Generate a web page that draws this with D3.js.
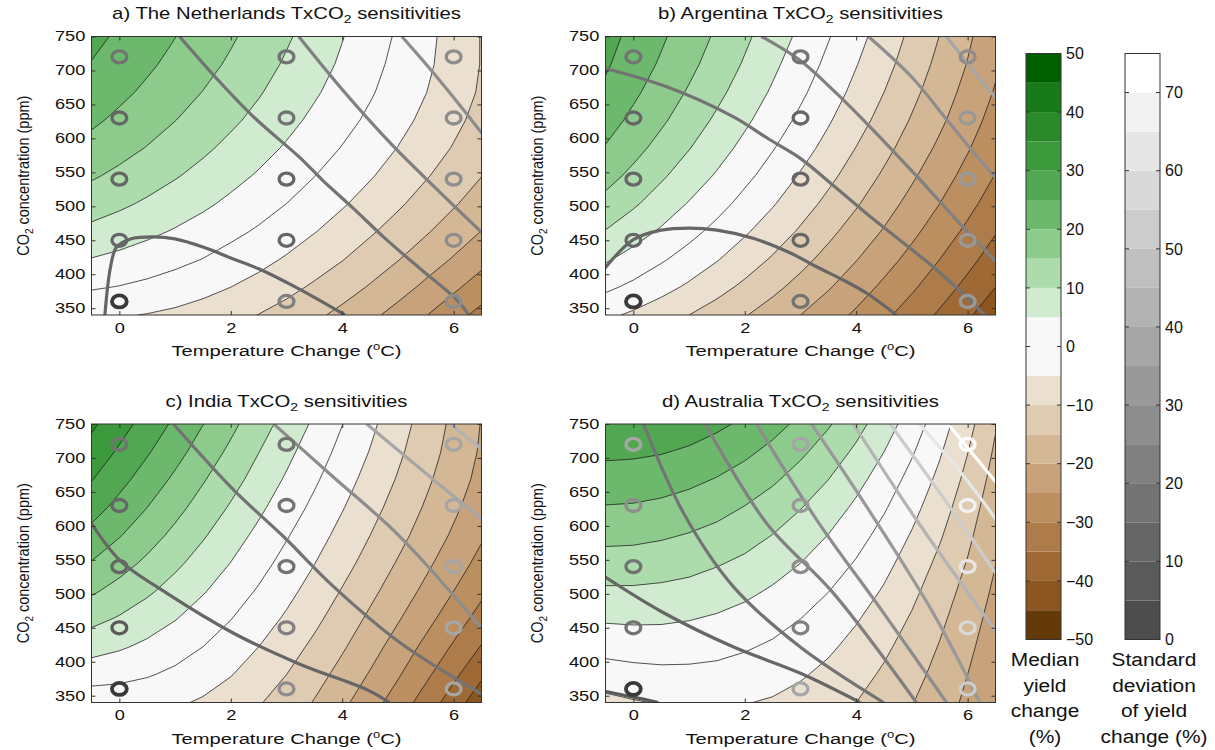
<!DOCTYPE html>
<html>
<head>
<meta charset="utf-8">
<script src="https://cdn.jsdelivr.net/npm/d3@7"></script>
<style>
  body { margin: 0; background: #fff; }
  text { font-family: "Liberation Sans", Arial, Helvetica, sans-serif; fill: #111; }
</style>
</head>
<body>
<svg id="chart" width="1215" height="750"></svg>
<script>
// ---- axes / design points ----
const T_TICKS = [0, 2, 4, 6];
const CO2_TICKS = [350, 400, 450, 500, 550, 600, 650, 700, 750];
const DESIGN_T = [0, 3, 6];
const DESIGN_CO2 = [360, 450, 540, 630, 720];
const LEVELS = [-50, -45, -40, -35, -30, -25, -20, -15, -10, -5, 0, 5, 10, 15, 20, 25, 30, 35, 40, 45, 50];

// grid the median surface is read on
const GRID_T = [-0.5, 0, 0.5, 1, 1.5, 2, 2.5, 3, 3.5, 4, 4.5, 5, 5.5, 6, 6.5];
const GRID_CO2 = [340, 381, 422, 463, 504, 545, 586, 627, 668, 709, 750];

// ---- median yield change (%), one row per GRID_CO2 value, columns follow GRID_T ----
const MEDIAN_A = [
  [-4.3, -4.6, -5.2, -6.0, -7.1, -8.5, -10.1, -11.9, -14.0, -16.3, -18.9, -21.7, -24.8, -28.1, -31.6],
  [0.5, -0.2, -1.1, -2.2, -3.5, -5.0, -6.7, -8.6, -10.7, -12.9, -15.4, -18.1, -21.0, -24.1, -27.3],
  [4.8, 3.8, 2.6, 1.3, -0.1, -1.8, -3.5, -5.5, -7.6, -9.8, -12.3, -14.8, -17.6, -20.4, -23.5],
  [8.8, 7.5, 6.1, 4.6, 3.0, 1.2, -0.6, -2.6, -4.8, -7.0, -9.4, -11.9, -14.5, -17.3, -20.1],
  [12.3, 10.9, 9.3, 7.6, 5.9, 4.0, 2.0, 0.0, -2.2, -4.5, -6.8, -9.3, -11.9, -14.5, -17.3],
  [15.6, 13.9, 12.2, 10.4, 8.5, 6.5, 4.5, 2.3, 0.1, -2.2, -4.6, -7.0, -9.6, -12.2, -14.9],
  [18.4, 16.7, 14.8, 12.9, 10.9, 8.8, 6.7, 4.5, 2.2, -0.2, -2.6, -5.1, -7.6, -10.3, -13.0],
  [20.9, 19.0, 17.1, 15.1, 13.0, 10.9, 8.7, 6.4, 4.0, 1.6, -0.9, -3.5, -6.1, -8.8, -11.6],
  [23.0, 21.1, 19.1, 17.0, 14.9, 12.7, 10.4, 8.0, 5.6, 3.1, 0.5, -2.2, -4.9, -7.7, -10.6],
  [24.8, 22.9, 20.8, 18.7, 16.5, 14.3, 11.9, 9.4, 6.9, 4.3, 1.5, -1.3, -4.1, -7.1, -10.2],
  [26.2, 24.3, 22.3, 20.1, 17.9, 15.6, 13.2, 10.6, 8.0, 5.2, 2.3, -0.6, -3.7, -6.9, -10.2]
];
const MEDIAN_B = [
  [-4.0, -5.8, -7.8, -10.0, -12.2, -14.7, -17.2, -20.0, -22.8, -25.8, -29.0, -32.3, -35.7, -39.3, -43.1],
  [1.0, -1.1, -3.4, -5.8, -8.4, -11.0, -13.8, -16.6, -19.6, -22.7, -26.0, -29.3, -32.8, -36.3, -40.0],
  [5.6, 3.2, 0.6, -2.0, -4.7, -7.6, -10.5, -13.5, -16.6, -19.8, -23.1, -26.5, -30.0, -33.6, -37.2],
  [9.8, 7.1, 4.4, 1.5, -1.4, -4.4, -7.4, -10.6, -13.8, -17.1, -20.4, -23.9, -27.4, -31.0, -34.7],
  [13.5, 10.7, 7.7, 4.7, 1.7, -1.5, -4.6, -7.9, -11.2, -14.5, -18.0, -21.5, -25.0, -28.6, -32.3],
  [16.8, 13.8, 10.7, 7.6, 4.5, 1.2, -2.0, -5.4, -8.8, -12.2, -15.7, -19.3, -22.9, -26.5, -30.2],
  [19.7, 16.6, 13.4, 10.2, 7.0, 3.7, 0.3, -3.1, -6.5, -10.1, -13.6, -17.2, -20.9, -24.6, -28.4],
  [22.1, 18.9, 15.8, 12.5, 9.2, 5.9, 2.5, -1.0, -4.5, -8.1, -11.7, -15.4, -19.1, -22.9, -26.8],
  [24.1, 20.9, 17.7, 14.5, 11.2, 7.8, 4.4, 0.9, -2.7, -6.3, -10.0, -13.8, -17.6, -21.5, -25.4],
  [25.6, 22.5, 19.4, 16.2, 12.9, 9.5, 6.0, 2.5, -1.1, -4.8, -8.5, -12.3, -16.3, -20.2, -24.3],
  [26.7, 23.7, 20.7, 17.5, 14.3, 10.9, 7.5, 4.0, 0.3, -3.4, -7.2, -11.1, -15.1, -19.2, -23.4]
];
const MEDIAN_C = [
  [-3.0, -2.9, -3.4, -4.3, -5.6, -7.4, -9.6, -12.2, -15.3, -18.9, -22.9, -27.3, -32.2, -37.5, -43.3],
  [2.1, 1.4, 0.4, -1.0, -2.8, -4.8, -7.3, -10.0, -13.1, -16.6, -20.4, -24.5, -29.0, -33.9, -39.1],
  [6.9, 5.6, 4.0, 2.1, 0.0, -2.4, -5.0, -7.9, -11.0, -14.4, -18.1, -22.0, -26.2, -30.6, -35.3],
  [11.4, 9.5, 7.4, 5.2, 2.7, 0.1, -2.7, -5.7, -8.9, -12.3, -15.9, -19.6, -23.5, -27.6, -31.9],
  [15.7, 13.3, 10.8, 8.1, 5.4, 2.5, -0.5, -3.6, -6.9, -10.3, -13.8, -17.4, -21.1, -25.0, -29.0],
  [19.7, 16.9, 14.0, 11.0, 8.0, 4.9, 1.7, -1.6, -4.9, -8.3, -11.8, -15.4, -19.0, -22.7, -26.5],
  [23.5, 20.3, 17.1, 13.8, 10.5, 7.2, 3.8, 0.4, -3.0, -6.5, -10.0, -13.5, -17.1, -20.7, -24.4],
  [27.0, 23.5, 20.0, 16.5, 13.0, 9.5, 6.0, 2.4, -1.1, -4.7, -8.3, -11.9, -15.5, -19.1, -22.7],
  [30.2, 26.5, 22.8, 19.1, 15.4, 11.8, 8.1, 4.4, 0.7, -3.0, -6.7, -10.4, -14.1, -17.8, -21.4],
  [33.2, 29.3, 25.5, 21.7, 17.8, 14.0, 10.1, 6.3, 2.4, -1.4, -5.2, -9.1, -12.9, -16.8, -20.6],
  [35.9, 32.0, 28.0, 24.1, 20.1, 16.2, 12.2, 8.2, 4.2, 0.1, -3.9, -8.0, -12.0, -16.1, -20.2]
];
const MEDIAN_D = [
  [-6.4, -5.4, -4.7, -4.3, -4.4, -4.8, -5.5, -6.6, -8.1, -10.0, -12.2, -14.8, -17.7, -21.0, -24.7],
  [-2.3, -1.6, -1.2, -1.2, -1.5, -2.1, -3.1, -4.5, -6.2, -8.3, -10.7, -13.4, -16.5, -20.0, -23.8],
  [1.7, 2.1, 2.2, 2.0, 1.5, 0.5, -0.7, -2.3, -4.2, -6.5, -9.1, -12.0, -15.3, -18.9, -22.9],
  [5.6, 5.8, 5.7, 5.2, 4.4, 3.3, 1.8, 0.0, -2.1, -4.6, -7.4, -10.5, -14.0, -17.8, -21.9],
  [9.3, 9.3, 9.0, 8.4, 7.4, 6.1, 4.4, 2.5, 0.1, -2.5, -5.5, -8.9, -12.6, -16.6, -20.9],
  [12.9, 12.8, 12.3, 11.6, 10.4, 9.0, 7.1, 5.0, 2.4, -0.4, -3.6, -7.2, -11.1, -15.3, -19.9],
  [16.4, 16.2, 15.6, 14.7, 13.5, 11.9, 9.9, 7.6, 4.9, 1.8, -1.6, -5.4, -9.5, -14.0, -18.9],
  [19.7, 19.5, 18.9, 17.9, 16.6, 14.8, 12.7, 10.2, 7.4, 4.1, 0.5, -3.5, -7.9, -12.7, -17.9],
  [22.9, 22.7, 22.1, 21.1, 19.7, 17.9, 15.7, 13.0, 10.0, 6.5, 2.7, -1.6, -6.2, -11.3, -16.8],
  [26.0, 25.8, 25.3, 24.3, 22.8, 21.0, 18.7, 15.9, 12.7, 9.1, 5.0, 0.5, -4.5, -9.9, -15.7],
  [28.9, 28.9, 28.4, 27.5, 26.0, 24.1, 21.7, 18.9, 15.5, 11.7, 7.4, 2.6, -2.7, -8.4, -14.6]
];

// ---- standard deviation isolines [T, CO2] with their level (%) ----
const STD_A = [
  {level: 10, pts: [[-0.26,340],[-0.16,410],[-0.05,440],[0.2,452],[0.6,455],[1.0,452],[1.5,440],[2.0,424],[2.5,408],[3.0,388],[3.5,366],[4.05,340]]},
  {level: 15, pts: [[1.08,750],[1.77,686],[2.43,630],[3.25,571],[3.64,539],[4.2,497],[4.74,455],[5.4,408],[6.06,362],[6.27,340]]},
  {level: 20, pts: [[3.22,750],[4.0,672],[4.9,590],[5.7,525],[6.55,458]]},
  {level: 25, pts: [[5.07,750],[5.6,700],[6.1,650],[6.55,603]]}
];
const STD_B = [
  {level: 10, pts: [[-0.55,405],[0,451],[0.5,465],[1.0,468],[1.5,465],[2.15,453],[2.8,432],[3.29,411],[3.8,390],[4.19,372],[4.72,340]]},
  {level: 15, pts: [[-0.55,704],[0.6,676],[1.79,632],[2.45,598],[2.99,571],[3.6,530],[4.25,485],[5.38,411],[6.0,365],[6.3,340]]},
  {level: 20, pts: [[2.30,750],[2.99,715],[3.6,670],[4.13,627],[5.09,544],[5.8,480],[6.55,415]]},
  {level: 27, pts: [[4.22,750],[5.0,690],[5.63,627],[6.1,580],[6.55,538]]},
  {level: 35, pts: [[5.62,750],[6.1,700],[6.55,655]]}
];
const STD_C = [
  {level: 14, pts: [[-0.55,610],[0,550],[0.85,501],[2.05,442],[3.25,396],[4.44,359],[4.85,340]]},
  {level: 19, pts: [[0.97,750],[2.05,653],[2.95,584],[3.84,511],[5.04,428],[6.55,350]]},
  {level: 27, pts: [[2.77,750],[3.84,672],[5.04,584],[6.55,445]]},
  {level: 35, pts: [[4.44,750],[5.64,668],[6.55,607]]},
  {level: 43, pts: [[5.94,750],[6.55,710]]}
];
const STD_D = [
  {level: 5, pts: [[-0.55,357],[0.0,348],[0.45,340]]},
  {level: 10, pts: [[-0.55,527],[0.5,474],[1.79,422],[3.0,383],[4.07,340]]},
  {level: 15, pts: [[0.18,750],[0.9,619],[1.79,511],[2.99,422],[4.49,340]]},
  {level: 20, pts: [[1.29,750],[2.39,604],[3.59,501],[5.08,340]]},
  {level: 25, pts: [[2.21,750],[3.29,609],[4.49,472],[5.62,340]]},
  {level: 32, pts: [[3.20,750],[4.19,628],[5.38,472],[6.22,340]]},
  {level: 40, pts: [[3.95,750],[5.08,609],[6.55,440]]},
  {level: 50, pts: [[4.61,750],[5.68,628],[6.55,525]]},
  {level: 60, pts: [[5.14,750],[5.98,668],[6.55,605]]},
  {level: 70, pts: [[5.65,750],[6.55,660]]}
];

// ---- std (%) of the simulated design points, rows T = 0, 3, 6; columns follow DESIGN_CO2 ----
const RING_A = [[0, 12, 12, 12, 15], [20, 14, 14, 15, 18], [27, 25, 25, 26, 26]];
const RING_B = [[0, 11, 12, 14, 15], [15, 14, 14, 14, 15], [33, 34, 32, 31, 28]];
const RING_C = [[0, 6, 11, 11, 15], [25, 22, 19, 15, 15], [35, 39, 35, 35, 35]];
const RING_D = [[0, 15, 19, 27, 35], [38, 22, 25, 32, 39], [52, 57, 62, 67, 73]];

const BAND_COLORS = [
  "#643a08", "#8c5621", "#9f6935", "#ae7c4a", "#bc8f61", "#c8a27a", "#d4b795", "#dfcbb2", "#ebdfd0",
  "#f8f8f8", "#f8f8f8",
  "#d1ebd1", "#acdbac", "#8ccb8c", "#6cb86c", "#52a852", "#3c9a3c", "#2a8a2a", "#187a18", "#006000"
];
const GRAY_BANDS = d3.range(15).map(i => d3.interpolateRgb("#4d4d4d", "#ffffff")(i / 14));

const PANELS = [
  {title: "a) The Netherlands TxCO", left: 91.5, top: 36.5, median: MEDIAN_A, std: STD_A, rings: RING_A},
  {title: "b) Argentina TxCO", left: 605.5, top: 36.5, median: MEDIAN_B, std: STD_B, rings: RING_B},
  {title: "c) India TxCO", left: 91.5, top: 424, median: MEDIAN_C, std: STD_C, rings: RING_C},
  {title: "d) Australia TxCO", left: 605.5, top: 424, median: MEDIAN_D, std: STD_D, rings: RING_D}
];
const PW = 390, PH = 278.5;
const SX = 1.3; // the original figure is stretched sideways

const svg = d3.select("#chart");
const FONT = '"Liberation Sans", Arial, Helvetica, sans-serif';
const bandColor = v => BAND_COLORS[Math.max(0, Math.min(19, Math.round((v + 50) / 5)))];
const stdColor = d3.scaleQuantize().domain([0, 75]).range(GRAY_BANDS);

function drawPanel(p, i) {
  const x = d3.scaleLinear().domain([-0.5, 6.5]).range([p.left, p.left + PW]);
  const y = d3.scaleLinear().domain([340, 750]).range([p.top + PH, p.top]);
  const g = svg.append("g");

  svg.append("clipPath").attr("id", "clip" + i)
    .append("rect").attr("x", p.left).attr("y", p.top).attr("width", PW).attr("height", PH);
  const plot = g.append("g").attr("clip-path", `url(#clip${i})`);

  plot.append("rect")
    .attr("x", p.left).attr("y", p.top).attr("width", PW).attr("height", PH)
    .attr("fill", BAND_COLORS[0]);

  // filled contours: region >= level painted with the band just above it
  const sets = d3.contours()
    .size([GRID_T.length, GRID_CO2.length])
    .thresholds(LEVELS)(p.median.flat());
  const gx = d3.scaleLinear().domain([0.5, GRID_T.length - 0.5]).range([GRID_T[0], GRID_T[GRID_T.length - 1]]);
  const gy = d3.scaleLinear().domain([0.5, GRID_CO2.length - 0.5]).range([GRID_CO2[0], GRID_CO2[GRID_CO2.length - 1]]);
  const path = d3.geoPath(d3.geoTransform({
    point(u, v) { this.stream.point(x(gx(u)), y(gy(v))); }
  }));

  plot.selectAll("path.band").data(sets).join("path")
    .attr("class", "band")
    .attr("d", path)
    .attr("fill", d => bandColor(d.value));

  plot.selectAll("path.iso").data(sets.filter(d => d.value > -50 && d.value < 50)).join("path")
    .attr("class", "iso")
    .attr("d", path)
    .attr("fill", "none")
    .attr("stroke", "#1a1a1a")
    .attr("stroke-width", 0.75);

  const line = d3.line().x(d => x(d[0])).y(d => y(d[1])).curve(d3.curveCatmullRom.alpha(0.5));
  plot.selectAll("path.std").data(p.std).join("path")
    .attr("class", "std")
    .attr("d", d => line(d.pts))
    .attr("fill", "none")
    .attr("stroke", d => stdColor(d.level))
    .attr("stroke-width", 3.2);

  const rings = DESIGN_T.flatMap((t, ti) => DESIGN_CO2.map((c, ci) => ({t, c, s: p.rings[ti][ci]})));
  g.selectAll("ellipse").data(rings).join("ellipse")
    .attr("cx", d => x(d.t))
    .attr("cy", d => y(d.c))
    .attr("rx", 7.4)
    .attr("ry", 6)
    .attr("fill", "none")
    .attr("stroke", d => d.s === 0 ? "#3a3a3a" : stdColor(d.s))
    .attr("stroke-width", d => d.s === 0 ? 3.8 : 3.3);

  g.append("rect")
    .attr("x", p.left).attr("y", p.top).attr("width", PW).attr("height", PH)
    .attr("fill", "none").attr("stroke", "#333").attr("stroke-width", 1);

  const styleAxis = sel => {
    sel.attr("font-family", FONT).attr("font-size", 14).attr("color", "#333");
    sel.select(".domain").remove();
    sel.selectAll("text").attr("fill", "#111").attr("transform", `scale(${SX},1)`);
  };
  g.append("g").attr("transform", `translate(0,${p.top + PH})`)
    .call(d3.axisBottom(x).tickValues(T_TICKS).tickSize(-4).tickSizeOuter(0).tickPadding(8).tickFormat(d3.format("d")))
    .call(styleAxis);
  g.append("g").attr("transform", `translate(0,${p.top})`)
    .call(d3.axisTop(x).tickValues(T_TICKS).tickSize(-4).tickSizeOuter(0).tickFormat(""))
    .call(styleAxis);
  g.append("g").attr("transform", `translate(${p.left},0)`)
    .call(d3.axisLeft(y).tickValues(CO2_TICKS).tickSize(-4).tickSizeOuter(0).tickPadding(4.8))
    .call(styleAxis);
  g.append("g").attr("transform", `translate(${p.left + PW},0)`)
    .call(d3.axisRight(y).tickValues(CO2_TICKS).tickSize(-4).tickSizeOuter(0).tickFormat(""))
    .call(styleAxis);

  const title = g.append("text")
    .attr("transform", `translate(${p.left + PW / 2},${p.top - 17.5}) scale(1.27,1)`)
    .attr("text-anchor", "middle").attr("font-size", 16);
  title.append("tspan").text(p.title);
  title.append("tspan").attr("font-size", 11).attr("dy", 4).text("2");
  title.append("tspan").attr("dy", -4).text(" sensitivities");

  const xt = g.append("text")
    .attr("transform", `translate(${p.left + PW / 2},${p.top + PH + 41}) scale(${SX},1)`)
    .attr("text-anchor", "middle").attr("font-size", 15.5);
  xt.append("tspan").text("Temperature Change (");
  xt.append("tspan").attr("font-size", 10).attr("dy", -6).text("o");
  xt.append("tspan").attr("dy", 6).text("C)");

  const yt = g.append("text")
    .attr("transform", `translate(${p.left - 63},${p.top + PH / 2}) scale(1.15,1) rotate(-90)`)
    .attr("text-anchor", "middle").attr("font-size", 14.5);
  yt.append("tspan").text("CO");
  yt.append("tspan").attr("font-size", 10).attr("dy", 4).text("2");
  yt.append("tspan").attr("dy", -4).text(" concentration (ppm)");
}

PANELS.forEach(drawPanel);

// ---- colour bars ----
function colorBar(left, scale, bands, color, ticks) {
  const g = svg.append("g");
  const w = 35;
  g.selectAll("rect.band").data(bands).join("rect")
    .attr("class", "band")
    .attr("x", left).attr("width", w)
    .attr("y", d => scale(d + 5)).attr("height", d => scale(d) - scale(d + 5))
    .attr("fill", d => color(d));
  const [lo, hi] = scale.domain();
  g.append("rect")
    .attr("x", left).attr("y", scale(hi)).attr("width", w).attr("height", scale(lo) - scale(hi))
    .attr("fill", "none").attr("stroke", "#333").attr("stroke-width", 1);
  g.selectAll("path.tick").data(ticks.filter(v => v > lo && v < hi)).join("path")
    .attr("class", "tick")
    .attr("d", v => `M${left},${scale(v)}h4M${left + w},${scale(v)}h-4`)
    .attr("stroke", "#333");
  g.selectAll("text").data(ticks).join("text")
    .attr("x", left + w + 5)
    .attr("y", v => scale(v))
    .attr("dy", "0.36em")
    .attr("font-size", 16)
    .text(d3.format("d"));
}

const MEDIAN_TICKS = [-50, -40, -30, -20, -10, 0, 10, 20, 30, 40, 50];
const STD_TICKS = [0, 10, 20, 30, 40, 50, 60, 70];
const medY = d3.scaleLinear().domain([-50, 50]).range([639.5, 53.5]);
colorBar(1026, medY, LEVELS.slice(0, -1), v => bandColor(v), MEDIAN_TICKS);
const sdY = d3.scaleLinear().domain([0, 75]).range([639.5, 53.5]);
colorBar(1125, sdY, d3.range(0, 75, 5), v => GRAY_BANDS[v / 5], STD_TICKS);

function stackLabel(cx, lines) {
  svg.append("g").selectAll("text").data(lines).join("text")
    .attr("transform", (d, i) => `translate(${cx},${666 + i * 25.6}) scale(1.1,1)`)
    .attr("text-anchor", "middle")
    .attr("font-size", 19)
    .text(d => d);
}
stackLabel(1045, ["Median", "yield", "change", "(%)"]);
stackLabel(1154, ["Standard", "deviation", "of yield", "change (%)"]);
</script>
</body>
</html>
